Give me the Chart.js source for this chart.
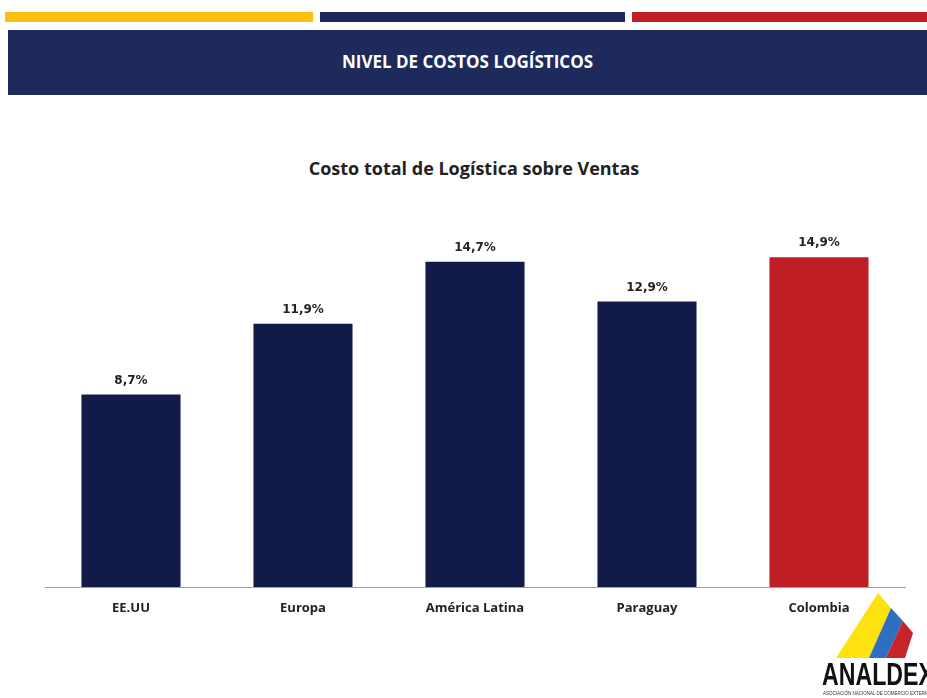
<!DOCTYPE html>
<html>
<head>
<meta charset="utf-8">
<script src="https://cdn.jsdelivr.net/npm/chart.js@4"></script>
<style>
  html, body { margin:0; padding:0; background:#fff; }
  body { width:927px; height:698px; position:relative; overflow:hidden; font-family:"Open Sans", sans-serif; }
  .franja { position:absolute; top:12px; height:10px; }
  #cabecera { position:absolute; left:8px; top:30px; width:919px; height:65px; background:#1f2a5c;
    color:#fff; font-weight:700; font-size:17px; text-align:center; line-height:64px; }
  #titulo { position:absolute; left:0; top:156px; width:948px; text-align:center; font-weight:700; font-size:18px; color:#222; }
  #lienzo { position:absolute; left:0; top:200px; width:927px; height:498px; }
  #logo { position:absolute; left:780px; top:585px; }
</style>
</head>
<body>
<div class="franja" style="left:5px;width:308px;background:#fdc010"></div>
<div class="franja" style="left:320px;width:305px;background:#1f2a5c"></div>
<div class="franja" style="left:632px;width:295px;background:#c01f26"></div>
<div id="cabecera">NIVEL DE COSTOS LOGÍSTICOS</div>
<div id="titulo">Costo total de Logística sobre Ventas</div>
<div id="lienzo"><canvas id="grafico" width="927" height="498"></canvas></div>
<svg id="logo" width="147" height="113">
  <polygon points="56,73 98,8 111,23 89,73" fill="#fde210"/>
  <polygon points="89,73 111,23 123,36 106,73" fill="#2f6fc0"/>
  <polygon points="106,73 123,36 133,48 125,73" fill="#c7232b"/>
  <text x="42" y="100" textLength="112" lengthAdjust="spacingAndGlyphs" font-family="Liberation Sans, sans-serif" font-weight="700" font-size="31" fill="#111">ANALDEX</text>
  <text x="43" y="110" textLength="110" lengthAdjust="spacingAndGlyphs" font-family="Liberation Sans, sans-serif" font-size="4.5" fill="#333">ASOCIACIÓN NACIONAL DE COMERCIO EXTERIOR</text>
</svg>
<script>
// Datos
const paises = ['EE.UU', 'Europa', 'América Latina', 'Paraguay', 'Colombia'];
const costos = [8.7, 11.9, 14.7, 12.9, 14.9];
const colores = ['#121a4a', '#121a4a', '#121a4a', '#121a4a', '#be1e24'];

// Etiquetas de valor sobre las barras
const etiquetas = {
  id: 'etiquetas',
  afterDatasetsDraw(chart){
    const ctx = chart.ctx;
    ctx.save();
    ctx.font = 'bold 12px "DejaVu Sans", sans-serif';
    ctx.fillStyle = '#222';
    ctx.textAlign = 'center';
    ctx.textBaseline = 'bottom';
    chart.getDatasetMeta(0).data.forEach((barra, i) => {
      ctx.fillText(costos[i].toFixed(1).replace('.', ',') + '%', barra.x, barra.y - 8);
    });
    ctx.restore();
  }
};

new Chart(document.getElementById('grafico'), {
  type: 'bar',
  data: { labels: paises, datasets: [{ data: costos, backgroundColor: colores, categoryPercentage: 1, barPercentage: 0.576 }] },
  options: {
    responsive: false,
    animation: false,
    layout: { padding: { left: 45, right: 22, top: 33, bottom: 61 } },
    plugins: { legend: { display: false }, tooltip: { enabled: false } },
    scales: {
      x: {
        grid: { display: false },
        border: { color: '#a0a0a0', width: 1 },
        ticks: { color: '#222', padding: 5, font: { family: '"Open Sans", sans-serif', weight: 'bold', size: 13 } },
        afterFit: s => { s.height = 50; }
      },
      y: { display: false, min: 0, max: 16 }
    }
  },
  plugins: [etiquetas]
});
</script>
</body>
</html>
